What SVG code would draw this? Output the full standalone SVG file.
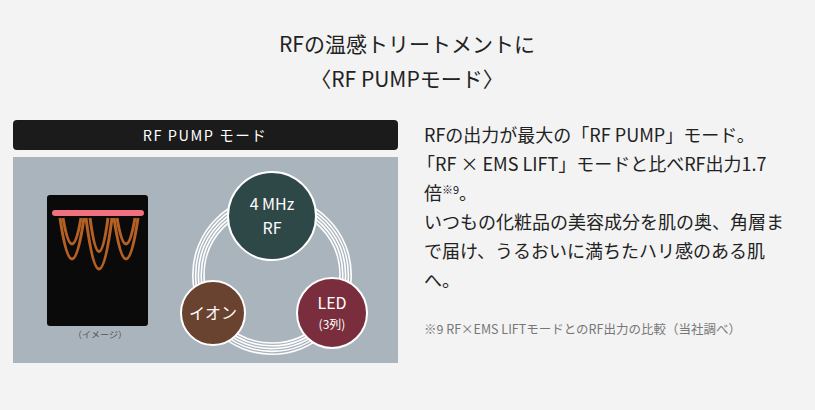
<svg xmlns="http://www.w3.org/2000/svg" width="815" height="410" viewBox="0 0 815 410">
<style>
text{font-family:"Noto Sans CJK JP","Noto Sans",sans-serif}
.t{fill:#222;font-size:21px;text-anchor:middle}
.b{fill:#222;font-size:18px}
.c{fill:#fff;text-anchor:middle}
.ring{fill:none;stroke:#fff;stroke-width:1.6}
.node{stroke:#fff;stroke-width:2}
</style>
<rect width="815" height="410" fill="#f3f3f3"/>
<text class="t" x="407" y="52">RFの温感トリートメントに</text>
<text class="t" x="407" y="87">〈RF PUMPモード〉</text>
<rect x="13" y="120" width="385" height="30" rx="4" fill="#1b1b1b"/>
<text class="c" x="205" y="141" font-size="14.5" letter-spacing="1.5">RF PUMP モード</text>
<rect x="13" y="157" width="385" height="206" fill="#aab4bd"/>
<g id="image">
<rect x="47" y="195" width="101" height="131" rx="3" fill="#0a0a0a"/>
<rect x="52" y="210" width="92" height="6" rx="3" fill="#f07080"/>
<g fill="none" stroke="#c86a28" stroke-width="3" opacity="0.9">
<path d="M60 218 Q72 300 84 218"/><path d="M63 218 Q72 270 81 218"/>
<path d="M86 218 Q99 320 112 218"/><path d="M90 218 Q99 285 108 218"/>
<path d="M114 218 Q126 300 138 218"/><path d="M117 218 Q126 270 135 218"/>
</g>
<text x="100" y="338" font-size="9" fill="#555" text-anchor="middle">（イメージ）</text>
</g>
<g id="rings">
<circle class="ring" cx="272" cy="275" r="68"/>
<circle class="ring" cx="272" cy="275" r="70.8"/>
<circle class="ring" cx="272" cy="275" r="73.6"/>
<circle class="ring" cx="272" cy="275" r="76.4"/>
<circle class="ring" cx="272" cy="275" r="79.2"/>
</g>
<g id="rf"><circle class="node" cx="272" cy="216" r="44" fill="#2e4848"/>
<text class="c" x="272" y="210" font-size="16">4 MHz</text><text class="c" x="272" y="234" font-size="16">RF</text></g>
<g id="ion"><circle class="node" cx="213" cy="313" r="32" fill="#6a4230"/>
<text class="c" x="213" y="319" font-size="16">イオン</text></g>
<g id="led"><circle class="node" cx="332" cy="313" r="35" fill="#7a2e3d"/>
<text class="c" x="332" y="309" font-size="16">LED</text><text class="c" x="332" y="329" font-size="12">(3列)</text></g>
<text class="b" x="424" y="142">RFの出力が最大の「RF PUMP」モード。</text>
<text class="b" x="417" y="171">「RF × EMS LIFT」モードと比べRF出力1.7</text>
<text class="b" x="424" y="200">倍<tspan font-size="11" dy="-6">※9</tspan><tspan dy="6">。</tspan></text>
<text class="b" x="424" y="229">いつもの化粧品の美容成分を肌の奥、角層ま</text>
<text class="b" x="424" y="258">で届け、うるおいに満ちたハリ感のある肌</text>
<text class="b" x="424" y="287">へ。</text>
<text x="424" y="334" font-size="12.5" fill="#777">※9 RF×EMS LIFTモードとのRF出力の比較（当社調べ）</text>
</svg>
